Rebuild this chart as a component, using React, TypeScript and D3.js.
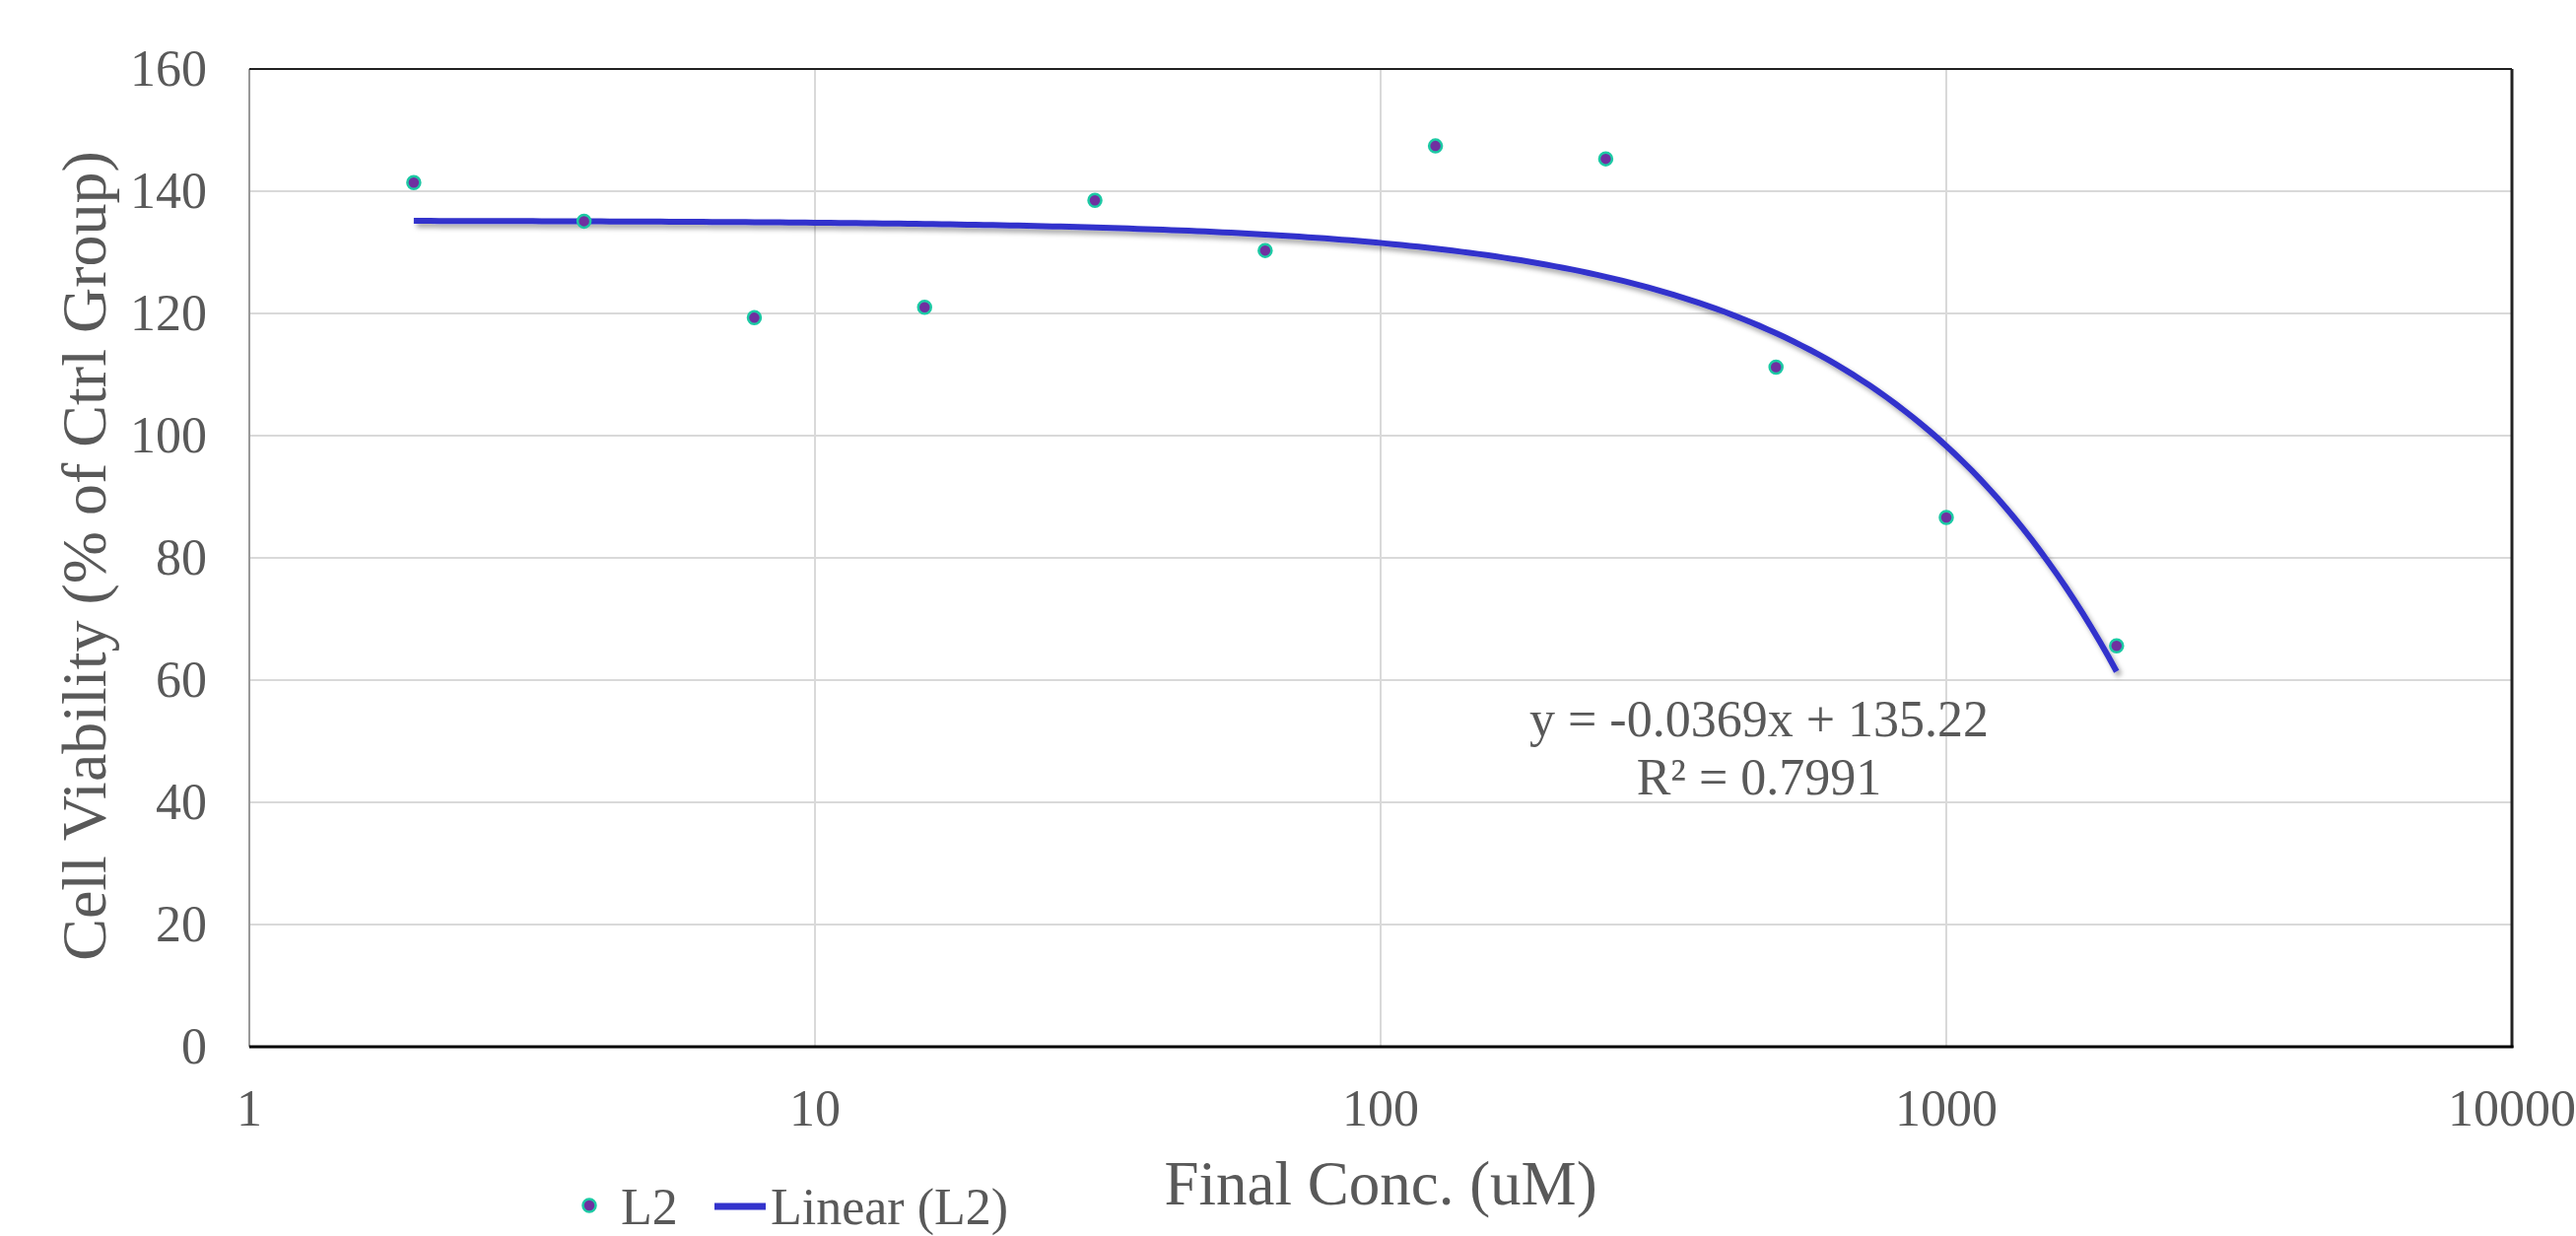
import React from 'react';
import * as d3 from 'd3';

// concentrations (uM) and viability (% of ctrl)
const conc = [1.953125, 3.90625, 7.8125, 15.625, 31.25, 62.5, 125, 250, 500, 1000, 2000];
const viability = [141.4, 135.1, 119.3, 121.0, 138.5, 130.3, 147.4, 145.3, 111.2, 86.6, 65.6];

// trendline from the label
const slope = -0.0369;
const intercept = 135.22;
const rSquared = 0.7991;

const xTicks = [1, 10, 100, 1000, 10000];
const yTicks = [0, 20, 40, 60, 80, 100, 120, 140, 160];

const W = 2614;
const H = 1254;
const left = 253, right = 2549, top = 70, bottom = 1062;
const textColor = '#595959';
const font = '"Liberation Serif", "Times New Roman", serif';

const App = () => {
  const x = d3.scaleLog().domain([1, 10000]).range([left, right]);
  const y = d3.scaleLinear().domain([0, 160]).range([bottom, top]);

  // sample the fitted line across the data range (log spaced, so it curves on this axis)
  const lo = Math.log10(conc[0]);
  const hi = Math.log10(conc[conc.length - 1]);
  const trend = d3.range(0, 201).map(i => {
    const c = Math.pow(10, lo + (hi - lo) * i / 200);
    return [c, slope * c + intercept] as [number, number];
  });
  const line = d3.line<[number, number]>()
    .x(d => x(d[0]))
    .y(d => y(d[1]));

  const eqX = 1785;
  const eqY = 747;
  const legY = 1242;

  return (
    <svg width={W} height={H} style={{ position: 'absolute', left: 0, top: 0, background: '#fff' }}
      fontFamily={font}>
      <defs>
        <filter id="shadow" x="-5%" y="-5%" width="110%" height="120%">
          <feDropShadow dx="3" dy="4" stdDeviation="2.5" floodColor="#000" floodOpacity="0.35" />
        </filter>
      </defs>
      <rect x={0} y={0} width={W} height={H} fill="#fff" />

      {/* gridlines */}
      {yTicks.filter(t => t > 0 && t < 160).map(t => (
        <line key={'gy' + t} x1={left} x2={right} y1={y(t)} y2={y(t)} stroke="#d9d9d9" strokeWidth={2} />
      ))}
      {xTicks.filter(t => t > 1 && t < 10000).map(t => (
        <line key={'gx' + t} x1={x(t)} x2={x(t)} y1={top} y2={bottom} stroke="#d9d9d9" strokeWidth={2} />
      ))}

      {/* frame */}
      <line x1={left} x2={left} y1={top} y2={bottom} stroke="#999" strokeWidth={2} />
      <line x1={left} x2={right} y1={top} y2={top} stroke="#222" strokeWidth={2} />
      <line x1={right} x2={right} y1={top} y2={bottom + 1} stroke="#222" strokeWidth={3} />
      <line x1={left} x2={right + 1.5} y1={bottom} y2={bottom} stroke="#000" strokeWidth={3} />

      {/* y tick labels */}
      {yTicks.map(t => (
        <text key={'ty' + t} x={210} y={y(t) + 17} textAnchor="end" fontSize={52} fill={textColor}>{t}</text>
      ))}
      {/* x tick labels */}
      {xTicks.map(t => (
        <text key={'tx' + t} x={x(t)} y={1142} textAnchor="middle" fontSize={52} fill={textColor}>{t}</text>
      ))}

      {/* axis titles */}
      <text x={1401} y={1222} textAnchor="middle" fontSize={63} fill={textColor}>Final Conc. (uM)</text>
      <text transform={`translate(107, 564) rotate(-90)`} textAnchor="middle" fontSize={64} fill={textColor}>
        Cell Viability (% of Ctrl Group)
      </text>

      {/* trendline */}
      <path d={line(trend) || ''} fill="none" stroke="#3333CC" strokeWidth={6} filter="url(#shadow)" />

      {/* points */}
      {conc.map((c, i) => (
        <circle key={'p' + i} cx={x(c)} cy={y(viability[i])} r={6.5} fill="#7030A0" stroke="#1DC9A4" strokeWidth={2.5} />
      ))}

      {/* equation */}
      <text x={eqX} y={eqY} textAnchor="middle" fontSize={52} fill={textColor}>
        {`y = ${slope}x + ${intercept}`}
      </text>
      <text x={eqX} y={eqY + 59} textAnchor="middle" fontSize={52} fill={textColor}>
        {`R² = ${rSquared}`}
      </text>

      {/* legend */}
      <circle cx={598} cy={legY - 19} r={6.5} fill="#7030A0" stroke="#1DC9A4" strokeWidth={2.5} />
      <text x={630} y={legY} fontSize={52} fill={textColor}>L2</text>
      <line x1={725} x2={777} y1={legY - 18} y2={legY - 18} stroke="#3333CC" strokeWidth={7} />
      <text x={782} y={legY} fontSize={52} fill={textColor}>Linear (L2)</text>
    </svg>
  );
};

export default App;
